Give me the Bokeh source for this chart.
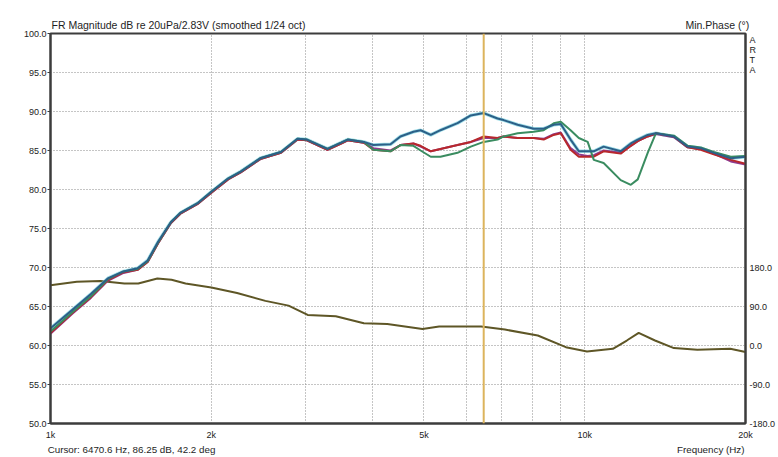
from bokeh.plotting import figure
from bokeh.models import (Range1d, LinearAxis, LogAxis, FixedTicker, PrintfTickFormatter,
                          Span, ColumnDataSource)
from bokeh.embed import file_html
from bokeh.resources import INLINE

# ---------------- data ----------------
freq_hz = [1000, 1100, 1190, 1280, 1370, 1455, 1520, 1590, 1680, 1750, 1890, 2000,
           2150, 2270, 2470, 2700, 2900, 3020, 3300, 3500, 3600, 3860, 4020, 4330,
           4520, 4780, 4930, 5150, 5370, 5780, 6120, 6470, 6870, 7050, 7490, 8030,
           8380, 8750, 9020, 9410, 9750, 10130, 10400, 10850, 11680, 12200, 12570,
           13120, 13590, 14690, 15590, 16490, 17440, 18770, 20000]

mag_blue = [62.2, 64.6, 66.6, 68.6, 69.5, 69.9, 70.9, 73.3, 75.8, 77.0, 78.3, 79.7,
            81.4, 82.3, 84.0, 84.8, 86.5, 86.4, 85.2, 86.0, 86.4, 86.1, 85.7, 85.8,
            86.8, 87.4, 87.6, 87.0, 87.6, 88.5, 89.5, 89.8, 89.1, 88.9, 88.3, 87.8,
            87.8, 88.3, 88.4, 86.4, 84.9, 84.9, 84.9, 85.5, 84.9, 85.9, 86.4,
            87.0, 87.2, 86.8, 85.5, 85.3, 84.7, 84.0, 84.2]
mag_red = [61.6, 64.2, 66.2, 68.4, 69.4, 69.7, 70.7, 73.1, 75.7, 76.9, 78.2, 79.6,
           81.3, 82.2, 83.9, 84.7, 86.4, 86.3, 85.1, 85.9, 86.3, 86.0, 85.1, 84.9,
           85.7, 85.9, 85.6, 84.9, 85.2, 85.7, 86.1, 86.8, 86.6, 86.8, 86.6, 86.6,
           86.4, 87.0, 87.2, 85.1, 84.2, 84.2, 84.2, 84.9, 84.6, 85.6, 86.2,
           86.8, 87.2, 86.8, 85.4, 85.1, 84.5, 83.8, 83.3]
mag_green = [61.8, 64.3, 66.3, 68.5, 69.5, 69.8, 70.8, 73.2, 75.8, 77.0, 78.3, 79.7,
             81.4, 82.3, 84.0, 84.8, 86.5, 86.4, 85.2, 86.0, 86.4, 86.1, 85.1, 84.9,
             85.7, 85.6, 85.0, 84.2, 84.2, 84.7, 85.5, 86.1, 86.4, 86.8, 87.2, 87.4,
             87.6, 88.5, 88.7, 87.6, 86.6, 86.1, 83.8, 83.4, 81.2, 80.6, 81.3,
             84.7, 87.2, 86.9, 85.6, 85.4, 84.8, 84.2, 84.3]
mag_purple = [61.5, 64.1, 66.1, 68.3, 69.3, 69.7, 70.7, 73.1, 75.7, 76.9, 78.2, 79.6,
              81.3, 82.2, 83.9, 84.7, 86.4, 86.3, 85.1, 85.9, 86.3, 86.0, 85.3, 85.0,
              85.7, 85.9, 85.5, 84.9, 85.2, 85.7, 86.1, 86.6, 86.6, 86.8, 86.6, 86.6,
              86.5, 87.1, 87.3, 85.3, 84.5, 84.3, 84.4, 85.0, 84.7, 85.6, 86.2,
              86.8, 87.1, 86.7, 85.4, 85.2, 84.6, 83.6, 83.2]

phase_freq_hz = [1000, 1120, 1240, 1375, 1460, 1585, 1685, 1790, 2000, 2235, 2525,
                 2790, 3030, 3420, 3860, 4270, 4970, 5340, 6400, 7090, 8170, 9220,
                 10100, 11290, 11990, 12620, 13540, 14690, 16250, 18730, 20000]
phase_deg = [139, 147, 148.6, 143, 143, 154.7, 151.7, 143, 134, 121, 103,
             92, 70.5, 67.4, 51.3, 49.8, 38.3, 43.6, 43.6, 36.8, 23, -3.8,
             -13.8, -7.7, 11.5, 29, 11.5, -6, -10, -7.7, -15]

cursor_hz = 6470.6
x_ticks = [1000, 2000, 5000, 10000, 20000]
x_tick_labels = ["1k", "2k", "5k", "10k", "20k"]
x_grid = [2000, 3000, 4000, 5000, 6000, 7000, 8000, 9000, 10000]
y_ticks = [50, 55, 60, 65, 70, 75, 80, 85, 90, 95, 100]
phase_ticks = [-180, -90, 0, 90, 180]
# "ARTA" logo letters stacked on the right-hand side (phase-axis positions)
logo_letters = ["A", "R", "T", "A"]
logo_pos = [704, 681, 658, 635]

title_text = "FR Magnitude dB re 20uPa/2.83V (smoothed 1/24 oct)"
phase_title = "Min.Phase (°)"
cursor_text = "Cursor: 6470.6 Hz, 86.25 dB, 42.2 deg"
x_title = "Frequency (Hz)"
# centre anchors (Hz) of the header / footer texts
top_text_at = [1736, 17710]
bottom_text_at = [1418, 17220]

FONT = "Liberation Sans"
AX = "#3c3c3c"

# ---------------- figure ----------------
p = figure(width=778, height=457, x_axis_type="log",
           x_range=Range1d(1000, 20000), y_range=Range1d(50, 100),
           output_backend="svg", toolbar_location=None,
           min_border_left=50, min_border_right=33,
           min_border_top=33, min_border_bottom=32)
p.background_fill_color = "white"
p.border_fill_color = "white"
p.outline_line_color = AX
p.outline_line_width = 2

p.extra_y_ranges = {"phase": Range1d(-180, 720)}

# grid
p.xgrid.ticker = FixedTicker(ticks=x_grid)
p.ygrid.ticker = FixedTicker(ticks=y_ticks[1:-1])
for g in (p.xgrid, p.ygrid):
    g.grid_line_color = "#8a8a8a"
    g.grid_line_dash = "1 2"
    g.grid_line_width = 1

# x axis
xa = p.xaxis[0]
xa.ticker = FixedTicker(ticks=x_ticks)
xa.major_label_overrides = {t: l for t, l in zip(x_ticks, x_tick_labels)}
xa.major_label_standoff = 6

# left axis
ya = p.yaxis[0]
ya.ticker = FixedTicker(ticks=y_ticks)
ya.formatter = PrintfTickFormatter(format="%.1f")
ya.major_label_standoff = 1

# right axis (phase) + stacked logo letters
ra = LinearAxis(y_range_name="phase",
                ticker=FixedTicker(ticks=phase_ticks + logo_pos),
                formatter=PrintfTickFormatter(format="%.1f"))
ra.major_label_overrides = {pos: ch for pos, ch in zip(logo_pos, logo_letters)}
ra.major_label_standoff = 4
p.add_layout(ra, "right")

for ax in (xa, ya, ra):
    ax.axis_line_color = AX
    ax.axis_line_width = 2
    ax.major_tick_line_color = AX
    ax.major_tick_out = 0
    ax.major_tick_in = 0
    ax.minor_tick_out = 0
    ax.minor_tick_in = 0
    ax.axis_label_standoff = 0
    ax.major_label_text_font = FONT
    ax.major_label_text_font_size = "9px"
    ax.major_label_text_color = "#222222"
ya.major_tick_out = 3

# header texts (above) and footer texts (below) as label rows
top = LogAxis(ticker=FixedTicker(ticks=top_text_at))
top.major_label_overrides = {top_text_at[0]: title_text, top_text_at[1]: phase_title}
bot = LogAxis(ticker=FixedTicker(ticks=bottom_text_at))
bot.major_label_overrides = {bottom_text_at[0]: cursor_text, bottom_text_at[1]: x_title}
for ax, size, so in ((top, "10.5px", 3), (bot, "9.8px", 1)):
    ax.axis_line_color = None
    ax.major_tick_line_color = None
    ax.minor_tick_line_color = None
    ax.major_tick_out = 0
    ax.major_tick_in = 0
    ax.minor_tick_out = 0
    ax.minor_tick_in = 0
    ax.axis_label_standoff = 0
    ax.major_label_text_font = FONT
    ax.major_label_text_font_size = size
    ax.major_label_text_color = "#1e1e1e"
    ax.major_label_standoff = so
p.add_layout(top, "above")
p.add_layout(bot, "below")

# cursor
p.add_layout(Span(location=cursor_hz, dimension="height",
                  line_color="#dcb45c", line_width=2))

# phase
src_ph = ColumnDataSource(dict(f=phase_freq_hz, ph=phase_deg))
p.line("f", "ph", source=src_ph, y_range_name="phase",
       line_color="#5e5626", line_width=2)

# magnitudes
src = ColumnDataSource(dict(f=freq_hz, b=mag_blue, r=mag_red, g=mag_green, m=mag_purple))
p.line("f", "b", source=src, line_color="#5fc8d8", line_width=3.5, line_alpha=0.6)
p.line("f", "m", source=src, line_color="#8e3c90", line_width=2)
p.line("f", "r", source=src, line_color="#b8282c", line_width=2)
p.line("f", "g", source=src, line_color="#3a8c60", line_width=2)
p.line("f", "b", source=src, line_color="#2c6088", line_width=2)

open("out.html", "w").write(file_html(p, INLINE))
